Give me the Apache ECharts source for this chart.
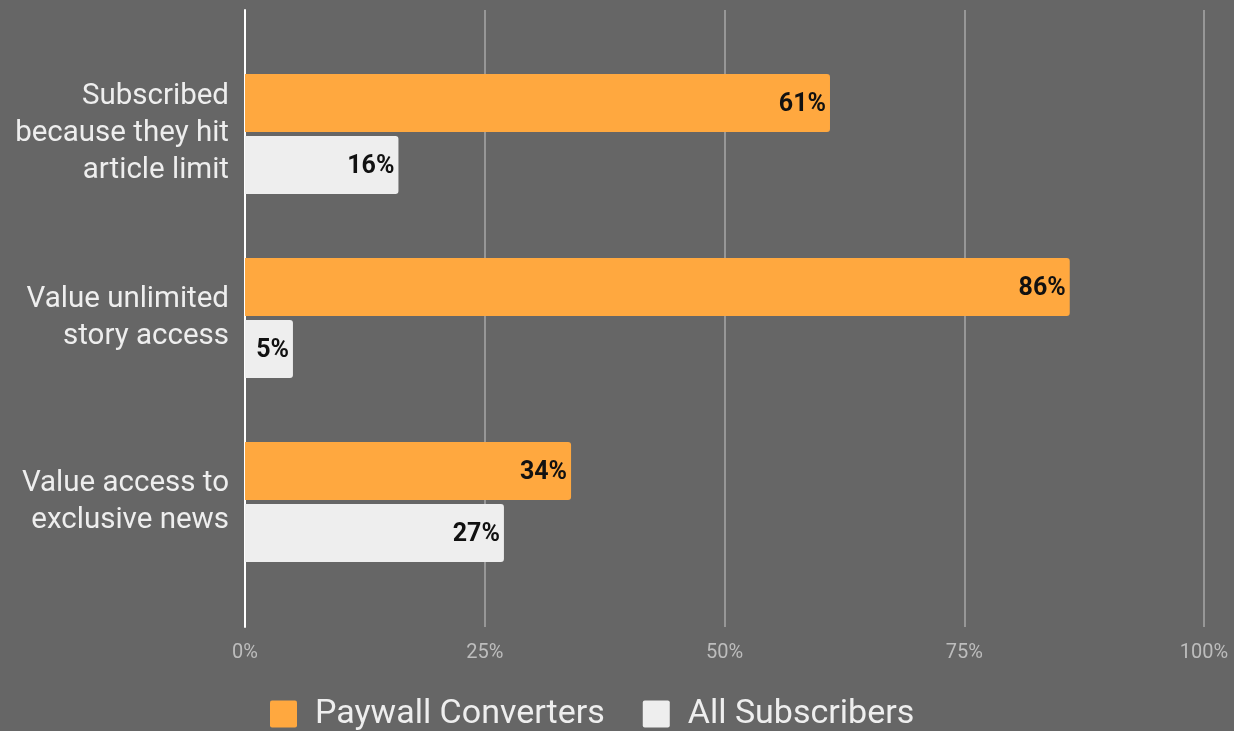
<!DOCTYPE html>
<html>
<head>
<meta charset="utf-8">
<script src="https://cdn.jsdelivr.net/npm/echarts@6/dist/echarts.min.js"></script>
<style>
  html, body { margin: 0; padding: 0; background: #666666; }
  #chart { width: 1234px; height: 731px; }
</style>
</head>
<body>
<div id="chart"></div>
<script>
// Survey categories (top to bottom)
const categories = [
  'Subscribed\nbecause they hit\narticle limit',
  'Value unlimited\nstory access',
  'Value access to\nexclusive news'
];
const seriesNames = ['Paywall Converters', 'All Subscribers'];
const paywallConverters = [61, 86, 34];
const allSubscribers = [16, 5, 27];
const xTicks = [0, 25, 50, 75, 100];

const chart = echarts.init(document.getElementById('chart'));

const valueLabel = {
  show: true,
  position: 'insideRight',
  distance: 4,
  offset: [0, 2],
  formatter: p => p.value + '%',
  color: '#111111',
  fontFamily: 'Roboto',
  fontWeight: 'bold',
  fontSize: 25
};

chart.setOption({
  backgroundColor: '#666666',
  animation: false,
  grid: [
    // full-height grid for the percentage axis and its vertical lines
    { left: 245, right: 30, top: 10, bottom: 104 },
    // grid holding the bars
    { left: 245, right: 30, top: 42, bottom: 137 }
  ],
  xAxis: [
    {
      gridIndex: 0,
      type: 'value',
      min: xTicks[0],
      max: xTicks[xTicks.length - 1],
      interval: 25,
      axisLine: { show: false },
      axisTick: { show: false },
      axisLabel: {
        formatter: '{value}%',
        color: '#bdbdbd',
        fontFamily: 'Roboto',
        fontSize: 20,
        margin: 16
      },
      splitLine: { show: true, lineStyle: { color: '#a8a8a8', width: 1.5 } }
    },
    {
      gridIndex: 1,
      type: 'value',
      min: 0,
      max: 100,
      show: false
    }
  ],
  yAxis: [
    {
      gridIndex: 0,
      type: 'value',
      min: 0,
      max: 1,
      axisLine: { show: true, lineStyle: { color: '#ffffff', width: 2 } },
      axisTick: { show: false },
      axisLabel: { show: false },
      splitLine: { show: false }
    },
    {
      gridIndex: 1,
      type: 'category',
      inverse: true,
      data: categories,
      axisLine: { show: false },
      axisTick: { show: false },
      axisLabel: {
        color: '#eeeeee',
        fontFamily: 'Roboto',
        fontSize: 29.5,
        lineHeight: 37,
        align: 'right',
        margin: 16,
        padding: [10, 0, 0, 0]
      }
    }
  ],
  legend: {
    top: 692,
    left: 265,
    itemWidth: 27,
    itemHeight: 27,
    itemGap: 38,
    icon: 'path://M2,0 L25,0 Q27,0 27,2 L27,25 Q27,27 25,27 L2,27 Q0,27 0,25 L0,2 Q0,0 2,0 Z',
    data: seriesNames,
    textStyle: {
      color: '#eeeeee',
      fontFamily: 'Roboto',
      fontSize: 34,
      padding: [0, 0, 0, 13]
    }
  },
  series: [
    {
      name: seriesNames[0],
      type: 'bar',
      xAxisIndex: 1,
      yAxisIndex: 1,
      data: paywallConverters,
      barWidth: 58,
      barGap: '7%',
      itemStyle: { color: '#ffa83f', borderRadius: [0, 3, 3, 0] },
      label: valueLabel
    },
    {
      name: seriesNames[1],
      type: 'bar',
      xAxisIndex: 1,
      yAxisIndex: 1,
      data: allSubscribers,
      barWidth: 58,
      barGap: '7%',
      itemStyle: { color: '#eeeeee', borderRadius: [0, 3, 3, 0] },
      label: valueLabel
    }
  ]
});
</script>
</body>
</html>
